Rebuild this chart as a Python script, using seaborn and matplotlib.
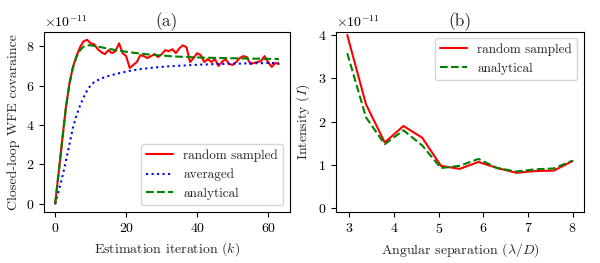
import numpy as np
import pandas as pd
import matplotlib
matplotlib.use("Agg")
import matplotlib.pyplot as plt
import seaborn as sns

# Panel (a) data, values in units of 1e-11
iterations = list(range(64))
random_sampled_a = [
    0.0, 1.6, 3.25, 4.85, 6.1, 6.95, 7.5, 7.95, 8.25, 8.33,
    8.15, 8.1, 7.85, 7.7, 7.6, 7.8, 7.65, 7.75, 8.15, 7.65,
    7.5, 6.9, 7.05, 7.2, 7.55, 7.5, 7.4, 7.5, 7.6, 7.45,
    7.6, 7.8, 7.75, 7.85, 7.65, 7.9, 8.05, 7.95, 7.2, 7.4,
    7.65, 7.55, 7.2, 7.35, 7.2, 7.35, 7.0, 7.2, 7.35, 7.1,
    7.05, 7.2, 7.4, 7.5, 7.45, 7.1, 7.15, 7.2, 7.25, 7.5,
    7.2, 6.95, 7.15, 7.1,
]
averaged_a = [
    0.0, 0.65, 1.35, 2.15, 3.0, 3.85, 4.5, 4.98, 5.4, 5.75,
    6.02, 6.18, 6.28, 6.36, 6.43, 6.49, 6.54, 6.59, 6.63, 6.67,
    6.71, 6.75, 6.78, 6.81, 6.84, 6.86, 6.88, 6.9, 6.92, 6.94,
    6.95, 6.97, 6.98, 6.99, 7.0, 7.01, 7.02, 7.03, 7.04, 7.05,
    7.06, 7.07, 7.07, 7.08, 7.09, 7.09, 7.1, 7.1, 7.11, 7.11,
    7.12, 7.12, 7.12, 7.13, 7.13, 7.13, 7.14, 7.14, 7.14, 7.14,
    7.15, 7.15, 7.15, 7.15,
]
analytical_a = [
    0.0, 1.6, 3.25, 4.85, 6.05, 6.9, 7.45, 7.8, 7.98, 8.05,
    8.05, 8.02, 7.98, 7.95, 7.91, 7.88, 7.84, 7.81, 7.78, 7.75,
    7.72, 7.7, 7.67, 7.65, 7.63, 7.61, 7.59, 7.57, 7.56, 7.54,
    7.53, 7.52, 7.5, 7.49, 7.48, 7.47, 7.46, 7.46, 7.45, 7.44,
    7.43, 7.43, 7.42, 7.42, 7.41, 7.41, 7.4, 7.4, 7.4, 7.39,
    7.39, 7.39, 7.38, 7.38, 7.38, 7.37, 7.37, 7.37, 7.37, 7.36,
    7.36, 7.36, 7.36, 7.35,
]

# Panel (b) data, values in units of 1e-11
separation = [2.95, 3.37, 3.79, 4.21, 4.63, 5.05, 5.47, 5.89, 6.31, 6.74, 7.16, 7.58, 8.0]
random_sampled_b = [4.0, 2.4, 1.52, 1.9, 1.63, 0.98, 0.91, 1.07, 0.93, 0.82, 0.86, 0.87, 1.09]
analytical_b = [3.58, 2.1, 1.48, 1.8, 1.45, 0.93, 0.98, 1.14, 0.93, 0.85, 0.9, 0.92, 1.1]
sep_ticks = [3, 4, 5, 6, 7, 8]

scale = 1e-11
df_a = pd.DataFrame({
    "k": iterations,
    "random": np.array(random_sampled_a) * scale,
    "averaged": np.array(averaged_a) * scale,
    "analytical": np.array(analytical_a) * scale,
})
df_b = pd.DataFrame({
    "sep": separation,
    "random": np.array(random_sampled_b) * scale,
    "analytical": np.array(analytical_b) * scale,
})

sns.set_style("ticks")
plt.rcParams["font.family"] = ["cmr10", "DejaVu Serif"]
plt.rcParams["mathtext.fontset"] = "cm"
plt.rcParams["axes.formatter.use_mathtext"] = True
plt.rcParams["axes.unicode_minus"] = False
plt.rcParams["font.size"] = 10

fig = plt.figure(figsize=(6, 2.63), dpi=100)
ax1 = fig.add_axes([0.0733, 0.194, 0.41, 0.686])
ax2 = fig.add_axes([0.56, 0.194, 0.413, 0.686])

sns.lineplot(data=df_a, x="k", y="random", ax=ax1, color="red", lw=1.5, label="random sampled")
sns.lineplot(data=df_a, x="k", y="averaged", ax=ax1, color="blue", lw=1.5, linestyle=":", label="averaged")
sns.lineplot(data=df_a, x="k", y="analytical", ax=ax1, color="green", lw=1.5, linestyle="--", label="analytical")
ax1.set_title("(a)", fontsize=12.5, pad=4)
ax1.set_xlabel("Estimation iteration ($k$)", fontsize=10)
ax1.set_ylabel("Closed-loop WFE covaraince", fontsize=10)
ax1.legend(loc="lower right", fontsize=9.5)

sns.lineplot(data=df_b, x="sep", y="random", ax=ax2, color="red", lw=1.5, label="random sampled")
sns.lineplot(data=df_b, x="sep", y="analytical", ax=ax2, color="green", lw=1.5, linestyle="--", label="analytical")
ax2.set_ylim(-0.085e-11, 4.08e-11)
ax2.set_yticks(np.arange(0, 5) * scale)
ax2.set_xticks(sep_ticks)
ax2.set_title("(b)", fontsize=12.5, pad=4)
ax2.set_xlabel(r"Angular separation ($\lambda/D$)", fontsize=10)
ax2.set_ylabel("Intensity ($I$)", fontsize=10)
ax2.legend(loc="upper right", fontsize=9.5)

for ax in (ax1, ax2):
    for s in ax.spines.values():
        s.set_color("black")
        s.set_linewidth(0.8)
    ax.tick_params(colors="black", labelsize=10, length=3.5, width=0.8)
    ax.yaxis.get_offset_text().set_fontsize(10)

fig.savefig("out.png", dpi=100)
